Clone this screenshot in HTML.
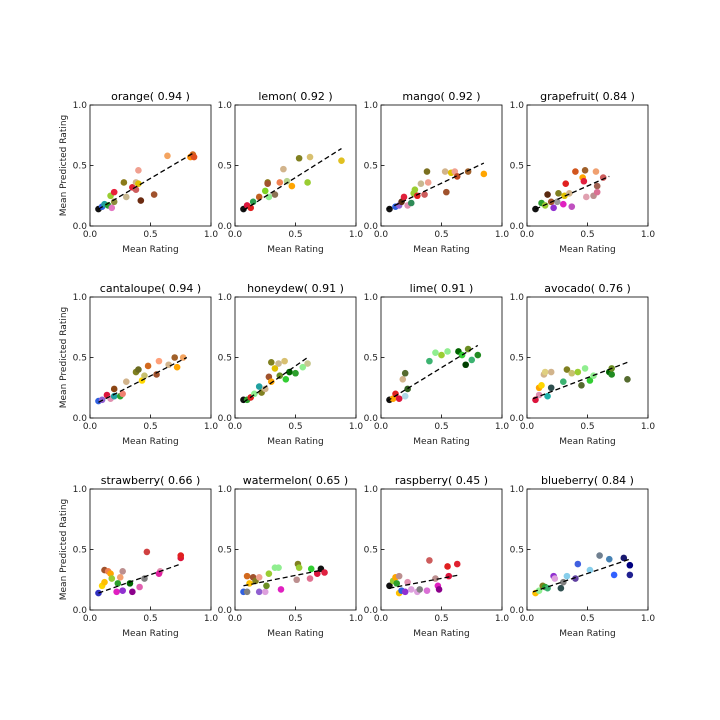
<!DOCTYPE html>
<html><head><meta charset="utf-8"><style>
html,body{margin:0;padding:0;background:#fff;width:720px;height:720px;overflow:hidden}
svg{font-family:"DejaVu Sans","Liberation Sans",sans-serif}
</style></head><body>
<svg id="fig" width="720" height="720" xmlns="http://www.w3.org/2000/svg"></svg>
<script>
const titles=["orange","lemon","mango","grapefruit","cantaloupe","honeydew","lime","avocado","strawberry","watermelon","raspberry","blueberry"];
const scores=["0.94","0.92","0.92","0.84","0.94","0.91","0.91","0.76","0.66","0.65","0.45","0.84"];
const trendX=[[0.07,0.85],[0.07,0.88],[0.05,0.85],[0.07,0.68],[0.07,0.8],[0.07,0.6],[0.05,0.8],[0.05,0.83],[0.07,0.75],[0.07,0.72],[0.07,0.65],[0.05,0.85]];
const trendY=[[0.14,0.6],[0.13,0.64],[0.14,0.52],[0.14,0.41],[0.13,0.5],[0.13,0.5],[0.14,0.6],[0.16,0.46],[0.14,0.38],[0.2,0.33],[0.18,0.29],[0.15,0.42]];
const ptsX=[
[0.07,0.1,0.12,0.15,0.18,0.2,0.17,0.2,0.28,0.3,0.35,0.38,0.4,0.4,0.38,0.42,0.53,0.64,0.83,0.85,0.86],
[0.07,0.1,0.13,0.15,0.2,0.25,0.27,0.27,0.33,0.28,0.37,0.4,0.43,0.47,0.53,0.6,0.62,0.88],
[0.07,0.12,0.15,0.17,0.19,0.22,0.25,0.27,0.28,0.3,0.33,0.38,0.39,0.36,0.53,0.58,0.61,0.63,0.54,0.72,0.85],
[0.07,0.12,0.15,0.17,0.2,0.25,0.26,0.22,0.3,0.32,0.31,0.35,0.37,0.4,0.46,0.48,0.47,0.49,0.55,0.57,0.58,0.58,0.63],
[0.07,0.1,0.14,0.17,0.2,0.2,0.25,0.27,0.3,0.38,0.4,0.43,0.45,0.48,0.55,0.57,0.65,0.7,0.72,0.77],
[0.07,0.1,0.13,0.16,0.2,0.22,0.25,0.28,0.3,0.3,0.33,0.36,0.37,0.41,0.42,0.45,0.5,0.56,0.6],
[0.07,0.1,0.12,0.15,0.18,0.2,0.22,0.2,0.4,0.45,0.5,0.55,0.64,0.67,0.7,0.75,0.8,0.72],
[0.07,0.1,0.12,0.1,0.14,0.15,0.2,0.17,0.2,0.3,0.33,0.37,0.42,0.45,0.48,0.52,0.55,0.68,0.7,0.7,0.83],
[0.07,0.1,0.12,0.12,0.15,0.17,0.18,0.25,0.23,0.22,0.27,0.27,0.33,0.35,0.41,0.45,0.47,0.58,0.57,0.75,0.75],
[0.07,0.1,0.1,0.12,0.15,0.17,0.2,0.2,0.25,0.28,0.33,0.26,0.36,0.38,0.51,0.52,0.53,0.63,0.62,0.68,0.71,0.74],
[0.07,0.1,0.12,0.13,0.15,0.15,0.17,0.2,0.22,0.25,0.3,0.32,0.38,0.4,0.45,0.47,0.48,0.55,0.56,0.63],
[0.07,0.1,0.13,0.15,0.17,0.22,0.23,0.28,0.3,0.33,0.42,0.4,0.52,0.6,0.68,0.72,0.8,0.85,0.85]];
const ptsY=[
[0.14,0.16,0.18,0.17,0.15,0.2,0.25,0.28,0.36,0.24,0.32,0.36,0.35,0.46,0.3,0.21,0.26,0.58,0.57,0.59,0.57],
[0.14,0.17,0.15,0.2,0.24,0.29,0.36,0.35,0.26,0.24,0.36,0.47,0.37,0.33,0.56,0.36,0.57,0.54],
[0.14,0.16,0.17,0.2,0.24,0.17,0.19,0.27,0.3,0.25,0.35,0.45,0.36,0.26,0.45,0.44,0.45,0.41,0.28,0.45,0.43],
[0.14,0.19,0.17,0.26,0.2,0.2,0.27,0.15,0.18,0.35,0.25,0.27,0.16,0.45,0.4,0.46,0.37,0.24,0.25,0.45,0.33,0.28,0.4],
[0.14,0.15,0.19,0.16,0.18,0.24,0.18,0.2,0.3,0.38,0.4,0.31,0.35,0.43,0.36,0.47,0.44,0.5,0.42,0.5],
[0.15,0.15,0.17,0.2,0.26,0.21,0.24,0.34,0.3,0.46,0.41,0.45,0.35,0.47,0.32,0.38,0.37,0.42,0.45],
[0.15,0.16,0.2,0.16,0.32,0.37,0.24,0.18,0.47,0.54,0.52,0.55,0.55,0.52,0.44,0.48,0.52,0.57],
[0.15,0.25,0.27,0.19,0.36,0.38,0.38,0.18,0.25,0.3,0.4,0.37,0.38,0.27,0.41,0.31,0.35,0.38,0.36,0.41,0.32],
[0.14,0.2,0.23,0.33,0.32,0.3,0.26,0.27,0.22,0.15,0.32,0.16,0.22,0.15,0.19,0.26,0.48,0.32,0.3,0.43,0.45],
[0.15,0.15,0.28,0.22,0.27,0.24,0.27,0.15,0.15,0.3,0.35,0.2,0.35,0.17,0.25,0.38,0.35,0.34,0.26,0.3,0.34,0.31],
[0.2,0.24,0.27,0.22,0.28,0.14,0.16,0.15,0.23,0.17,0.15,0.17,0.16,0.41,0.26,0.2,0.17,0.36,0.28,0.38],
[0.14,0.16,0.2,0.19,0.18,0.28,0.26,0.18,0.23,0.28,0.38,0.26,0.33,0.45,0.42,0.29,0.43,0.37,0.29]];
const ptsC=[
["#111","#3060e0","#20a0a0","#2ca02c","#e377c2","#8c8c3c","#9acd32","#e8203a","#8b7a1a","#c8b890","#e02030","#d2b48c","#e0c000","#f0a090","#cd5c5c","#6b2a10","#a0522d","#f4a460","#ff8c00","#d2691e","#e05020"],
["#111","#dc143c","#e02020","#2ca050","#c06020","#7ed320","#8b7a1a","#a0522d","#8b7355","#90ee90","#f08050","#d2b48c","#b5d48c","#ffa500","#808020","#9acd32","#d8c070","#e0c020"],
["#111","#3060e0","#9060d0","#5a2a10","#e0203a","#e090b0","#2e8b57","#9acd32","#9acd32","#e02020","#c8b890","#7a7020","#f0a090","#cd5c5c","#d2b48c","#e0c000","#f0a090","#c04820","#a0522d","#a0602a","#ffa500"],
["#111","#2ca02c","#9acd32","#5a2a10","#a0522d","#999","#808020","#9030d0","#e020c0","#e02020","#e0c000","#d2b48c","#c050c0","#d2561e","#ffa500","#a0602a","#e02040","#e0a0b0","#bc8f8f","#f0a070","#a06050","#db7093","#cd5c5c"],
["#3060e0","#9060d0","#dc143c","#e090b0","#20a0a0","#8b4513","#2ca02c","#f08070","#d2b48c","#808020","#6b6b20","#ffd700","#c8c070","#d2691e","#a0522d","#ffa07a","#d2b48c","#a0602a","#ffa500","#f4a460"],
["#111","#2ca02c","#e02020","#90ee90","#20a0a0","#808020","#d2b48c","#a0522d","#ffa500","#808020","#e0c000","#c8b890","#6b8e23","#d8c070","#32cd32","#006400","#2ca02c","#90ee90","#c8c890"],
["#111","#ffa500","#e02020","#dc143c","#d2b48c","#556b2f","#2f5f1f","#add8e6","#3cb371","#90ee90","#9acd32","#90ee90","#006400","#32cd32","#004000","#3cb371","#228b22","#6b8e23"],
["#dc143c","#ffa500","#ffd700","#e090b0","#d2b48c","#e0d080","#d2b48c","#20b2aa","#2f4f4f","#3cb371","#808020","#c8c070","#9acd32","#556b2f","#90ee90","#32cd32","#90ee90","#006400","#228b22","#6b8e23","#556b2f"],
["#3030c0","#ffd700","#ffc000","#a0522d","#f08050","#ffa500","#9acd32","#f4a070","#2ca02c","#e020c0","#bc8f8f","#9030d0","#006400","#8b008b","#e060b0","#808080","#d04040","#e090b0","#e020a0","#dc143c","#e02020"],
["#3060e0","#808080","#d2691e","#ffc000","#a0522d","#808020","#f0a090","#9060d0","#dda0dd","#9acd32","#90ee90","#6b8e23","#90ee90","#e020c0","#bc8f8f","#808020","#9acd32","#32cd32","#e07090","#dc143c","#111","#e02040"],
["#111","#9acd32","#ffa500","#2ca02c","#bc8f8f","#ffc000","#3060e0","#9030d0","#e090b0","#dda0dd","#dda0dd","#808080","#da70d6","#cd5c5c","#bc8f8f","#e020c0","#8b008b","#e02020","#dc143c","#e02030"],
["#ffc000","#90ee90","#808020","#2ca02c","#3cb371","#9030d0","#dda0dd","#2f4f4f","#808080","#87ceeb","#4060e0","#6040a0","#87ceeb","#708090","#4682b4","#3060ff","#191970","#000080","#202090"]];

const NS="http://www.w3.org/2000/svg";
const svg=document.getElementById('fig');
function mk(tag,attrs,parent){const e=document.createElementNS(NS,tag);for(const k in attrs)e.setAttribute(k,attrs[k]);(parent||svg).appendChild(e);return e;}
const colX=[90,235,381,527], rowY=[105,297,489], W=121, H=121;
for(let p=0;p<12;p++){
  const ox=colX[p%4], oy=rowY[Math.floor(p/4)];
  const sx=v=>ox+v*W, sy=v=>oy+H-v*H;
  const g=mk('g',{});
  
  
  const t=mk('text',{x:ox+W/2,y:oy-5,'text-anchor':'middle','font-size':'11',fill:'#000'},g);
  t.textContent=titles[p]+"( "+scores[p]+" )";
  
  
  [0,0.5,1].forEach((v,i)=>{
    const lab=["0.0","0.5","1.0"][i];
    mk('line',{x1:sx(v),x2:sx(v),y1:oy+H,y2:oy+H-3.5,stroke:'#000','stroke-width':0.8},g);
    mk('line',{x1:ox,x2:ox+3.5,y1:sy(v),y2:sy(v),stroke:'#000','stroke-width':0.8},g);
    const xt=mk('text',{x:sx(v),y:oy+H+11,'text-anchor':'middle','font-size':'9',fill:'#222'},g);
    xt.textContent=lab;
    
    
    const yt=mk('text',{x:ox-3,y:sy(v)+3,'text-anchor':'end','font-size':'9',fill:'#222'},g);
    yt.textContent=lab;
    
    
  });
  for(let i=0;i<ptsX[p].length;i++){
    const c=mk('circle',{cx:sx(ptsX[p][i]),cy:sy(ptsY[p][i]),r:3.3,fill:ptsC[p][i]},g);
    
    
  }
  const tl=mk('line',{x1:sx(trendX[p][0]),y1:sy(trendY[p][0]),x2:sx(trendX[p][1]),y2:sy(trendY[p][1]),stroke:'#000','stroke-width':1.3,'stroke-dasharray':'5,3'},g);
  
  
  const fr=mk('rect',{x:ox,y:oy,width:W,height:H,fill:'none',stroke:'#000','stroke-width':0.8},g);
  
  
  const xl=mk('text',{x:ox+W/2,y:oy+H+26,'text-anchor':'middle','font-size':'9',fill:'#222'},g);
  xl.textContent="Mean Rating";
  
  
  if(p%4===0){
    const yl=mk('text',{x:0,y:0,'text-anchor':'middle','font-size':'9',fill:'#222',transform:`translate(${ox-24},${oy+H/2}) rotate(-90)`},g);
    yl.textContent="Mean Predicted Rating";
    
    
  }
}
</script>
</body></html>
